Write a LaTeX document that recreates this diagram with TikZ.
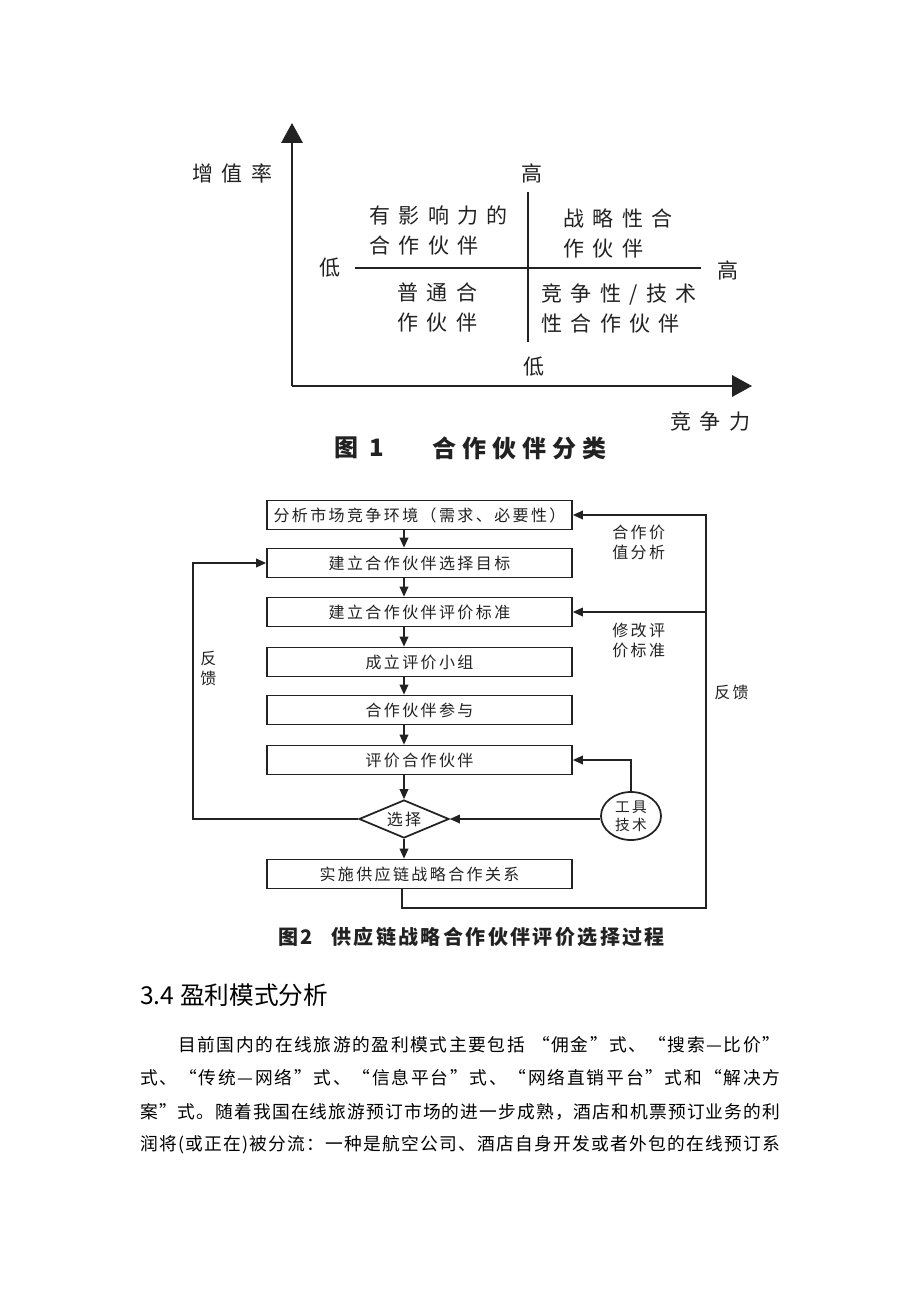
\documentclass[tikz,border=0pt]{standalone}
\usepackage{fontspec}
\setmainfont{Noto Sans CJK SC}
\newfontfamily\cjk{Noto Sans CJK SC}
\newfontfamily\fa[LetterSpace=40]{Noto Sans CJK SC}
\newfontfamily\fb[LetterSpace=15]{Noto Sans CJK SC}
\newfontfamily\fc[LetterSpace=12]{Noto Sans CJK SC}
\newfontfamily\fd[LetterSpace=25]{Noto Sans CJK SC}
\usetikzlibrary{arrows.meta,shapes.geometric}
\makeatletter
\def\spreadline#1{\spr@first#1\spr@nil}
\def\spr@first#1{#1\spr@rest}
\def\spr@nil{\spr@nil}
\def\spr@rest#1{\ifx#1\spr@nil\else\hskip0pt plus 1fil\relax#1\expandafter\spr@rest\fi}
\makeatother
\definecolor{ink}{HTML}{222222}
\tikzset{
  axisline/.style={draw=ink,line width=1.7pt,-{Triangle[length=15pt,width=16pt]}},
  quadline/.style={draw=ink,line width=1.2pt},
  qt/.style={inner sep=0pt,text=ink,align=left,font=\fa\fontsize{15.75pt}{22.5pt}\selectfont},
  captxt/.style={inner sep=0pt,anchor=west,text=ink},
  stepbox/.style={draw=ink,line width=1.3pt,minimum width=228.75pt,minimum height=21.75pt,inner sep=0pt,text=ink,font=\fb\fontsize{12pt}{15pt}\selectfont},
  choice/.style={draw=ink,line width=1.3pt,shape=diamond,aspect=2.4,minimum width=67.5pt,minimum height=28.5pt,inner sep=0pt,text=ink,font=\fb\fontsize{12pt}{15pt}\selectfont},
  toolnode/.style={draw=ink,line width=1.3pt,shape=ellipse,minimum width=45pt,minimum height=36pt,inner sep=0pt,align=center,text=ink,font=\fb\fontsize{11pt}{13.5pt}\selectfont},
  flow/.style={draw=ink,line width=1.1pt,-{Triangle[length=7.5pt,width=6.5pt]}},
  lb/.style={inner sep=0pt,align=left,text=ink,font=\fb\fontsize{12pt}{15pt}\selectfont},
  para/.style={inner sep=0pt,anchor=west,text=black,font=\cjk\fontsize{13.3pt}{16pt}\selectfont}
}
\begin{document}
\begin{tikzpicture}[x=0.75pt,y=-0.75pt]
\useasboundingbox[fill=white] (0,0) rectangle (920,1302);

% ---------- Figure 1 ----------
\coordinate (o) at (292,386);
\coordinate (ytip) at (292,123);
\coordinate (xtip) at (752,386);
\draw[axisline] (o) -- (ytip);
\draw[axisline] (o) -- (xtip);
\coordinate (vt) at (528,192);
\coordinate (vb) at (528,342);
\coordinate (hl) at (355,268);
\coordinate (hr) at (701,268);
\draw[quadline] (vt) -- (vb);
\draw[quadline] (hl) -- (hr);

\node[qt,anchor=west] (ylab) at (192,173) {增值率};
\node[qt,anchor=west] (xlab) at (670,422) {竞争力};
\node[qt] (hi1) at (532,173) {高};
\node[qt] (lo1) at (330,268) {低};
\node[qt] (hi2) at (728,270) {高};
\node[qt] (lo2) at (534,367) {低};
\node[qt,anchor=west] (q1) at (369,230) {有影响力的\\合作伙伴};
\node[qt,anchor=west] (q2) at (563,233) {战略性合\\作伙伴};
\node[qt,anchor=west] (q3) at (397,307) {普通合\\作伙伴};
\node[qt,anchor=west] (q4) at (541,308) {竞争性/技术\\性合作伙伴};

\node[captxt,font=\fd\fontsize{18pt}{20pt}\selectfont\bfseries] (c1a) at (334,448) {图 1};
\node[captxt,font=\fd\fontsize{18pt}{20pt}\selectfont\bfseries] (c1b) at (432,448) {合作伙伴分类};

% ---------- Figure 2 ----------
\coordinate (col) at (404,0);
\node[stepbox] (b1) at (419.5,515) {分析市场竞争环境（需求、必要性）};
\node[stepbox] (b2) at (419.5,563) {建立合作伙伴选择目标};
\node[stepbox] (b3) at (419.5,612) {建立合作伙伴评价标准};
\node[stepbox] (b4) at (419.5,662) {成立评价小组};
\node[stepbox] (b5) at (419.5,710) {合作伙伴参与};
\node[stepbox] (b6) at (419.5,760) {评价合作伙伴};
\node[choice] (d) at (404,819) {选择};
\node[stepbox] (b7) at (419.5,874) {实施供应链战略合作关系};
\node[toolnode] (t) at (631,816) {工具\\技术};

\draw[flow] (b1.south -| col) -- (b2.north -| col);
\draw[flow] (b2.south -| col) -- (b3.north -| col);
\draw[flow] (b3.south -| col) -- (b4.north -| col);
\draw[flow] (b4.south -| col) -- (b5.north -| col);
\draw[flow] (b5.south -| col) -- (b6.north -| col);
\draw[flow] (b6.south -| col) -- (d.north);
\draw[flow] (d.south) -- (b7.north -| col);

\coordinate (lf) at (193,819);
\draw[flow] (d.west) -- (lf) |- (b2.west);

\coordinate (rbl) at (402,908);
\coordinate (rbr) at (706,908);
\draw[flow] (b7.south -| rbl) -- (rbl) -- (rbr) |- (b1.east);
\draw[flow] (rbr |- b3.east) -- (b3.east);

\draw[flow] (t.north) |- (b6.east);
\draw[flow] (t.west |- d.east) -- (d.east);

\node[lb,anchor=west] (l1) at (612,542) {合作价\\值分析};
\node[lb,anchor=west] (l2) at (612,640) {修改评\\价标准};
\node[lb,anchor=west] (l3) at (714,692) {反馈};
\node[lb,anchor=west] (l4) at (200,669) {反\\馈};

\node[captxt,font=\fc\fontsize{15pt}{17pt}\selectfont\bfseries] (c2a) at (278,937) {图2};
\node[captxt,font=\fc\fontsize{15pt}{17pt}\selectfont\bfseries] (c2b) at (331,937) {供应链战略合作伙伴评价选择过程};

% ---------- Text ----------
\node[captxt,text=black,font=\cjk\fontsize{18.5pt}{20pt}\selectfont] (h) at (140,995) {3.4 盈利模式分析};
\node[para] (p1) at (178,1045) {\makebox[451.5pt][s]{\spreadline{目前国内的在线旅游的盈利模式主要包括~“佣金”式、“搜索—比价”}}};
\node[para] (p2) at (140,1078) {\makebox[480pt][s]{\spreadline{式、“传统—网络”式、“信息平台”式、“网络直销平台”式和“解决方}}};
\node[para] (p3) at (140,1112) {\makebox[480pt][s]{\spreadline{案”式。随着我国在线旅游预订市场的进一步成熟，酒店和机票预订业务的利}}};
\node[para] (p4) at (140,1145) {\makebox[480pt][s]{\spreadline{润将(或正在)被分流：一种是航空公司、酒店自身开发或者外包的在线预订系}}};
\end{tikzpicture}
\end{document}
